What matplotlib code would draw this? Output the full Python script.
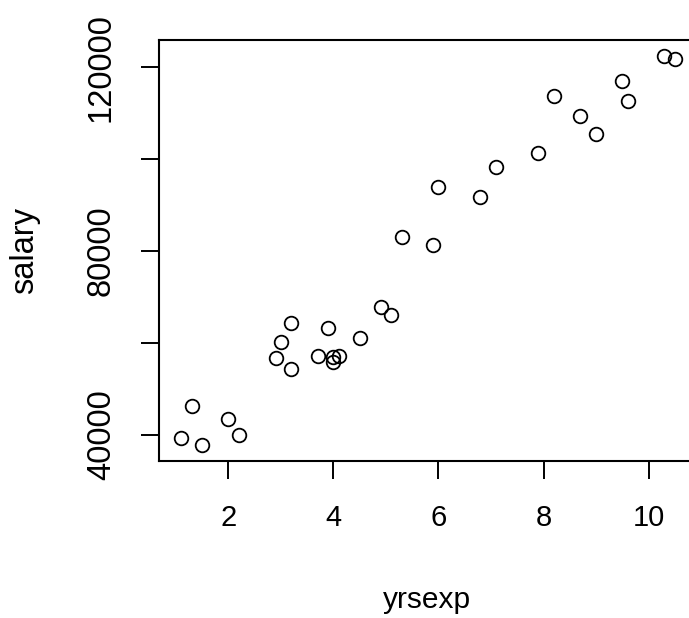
import matplotlib
matplotlib.use('Agg')
import matplotlib.pyplot as plt

yrsexp = [1.1, 1.3, 1.5, 2.0, 2.2, 2.9, 3.0, 3.2, 3.2, 3.7,
          3.9, 4.0, 4.0, 4.1, 4.5, 4.9, 5.1, 5.3, 5.9, 6.0,
          6.8, 7.1, 7.9, 8.2, 8.7, 9.0, 9.5, 9.6, 10.3, 10.5]
salary = [39343, 46205, 37731, 43525, 39891, 56642, 60150, 54445, 64445, 57189,
          63218, 55794, 56957, 57081, 61111, 67938, 66029, 83088, 81363, 93940,
          91738, 98273, 101302, 113812, 109431, 105582, 116969, 112635, 122391, 121872]

xticks = [2, 4, 6, 8, 10]
yticks = [40000, 60000, 80000, 100000, 120000]
ylabels = ['40000', '', '80000', '', '120000']

plt.rcParams['font.family'] = ['Liberation Sans', 'DejaVu Sans']

W, H = 689, 618
fig = plt.figure(figsize=(W / 100, H / 100), dpi=100)
# axes box in pixels (right side runs past the image edge, as in the reference)
left, right, top, bottom = 159, 694.8, 40, 460.7
ax = fig.add_axes([left / W, 1 - bottom / H, (right - left) / W, (bottom - top) / H])

ax.plot(yrsexp, salary, 'o', mfc='none', mec='black', ms=9.8, mew=1.3)

ax.set_xlim(0.68, 10.88)
ax.set_ylim(34400, 125940)
ax.set_xticks(xticks)
ax.set_xticklabels([str(t) for t in xticks])
ax.set_yticks(yticks)
ax.set_yticklabels(ylabels, rotation=90, va='center', fontsize=23.5)

for s in ax.spines.values():
    s.set_linewidth(1.5)
ax.tick_params(length=13.3, width=1.4, pad=18, colors='black')
ax.tick_params(axis='x', labelsize=21)
ax.tick_params(axis='y', pad=17)

fig.text(427 / W, 1 - 600 / H, 'yrsexp', ha='center', va='center', fontsize=21.5)
fig.text(25 / W, 1 - 251 / H, 'salary', ha='center', va='center', fontsize=23.5, rotation=90)

fig.savefig('out.png', dpi=100)
